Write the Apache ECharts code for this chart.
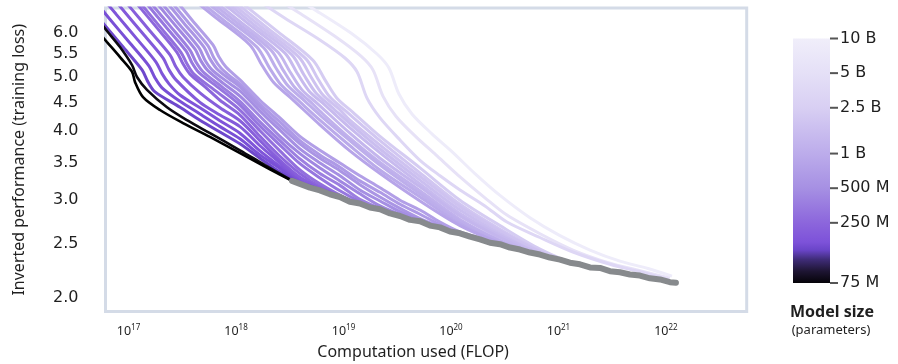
<!DOCTYPE html>
<html><head><meta charset="utf-8">
<script src="https://cdn.jsdelivr.net/npm/echarts@6/dist/echarts.min.js"></script>
<style>html,body{margin:0;padding:0;background:#fff}#c{width:898px;height:364px}</style>
</head><body><div id="c"></div>
<script>
// Tick values
const yTicks = [2.0, 2.5, 3.0, 3.5, 4.0, 4.5, 5.0, 5.5, 6.0];
const xTicks = [1e17, 1e18, 1e19, 1e20, 1e21, 1e22];
const sizeTicks = [75e6, 250e6, 500e6, 1e9, 2.5e9, 5e9, 1e10];

// Training curves: [log10(FLOP), training loss]
const blackA = [[16.735,5.98],[16.800,5.78],[16.921,5.43],[17.033,5.11],[17.060,4.90],[17.135,4.60],[17.293,4.36],[17.507,4.13],[17.758,3.90],[18.102,3.59],[18.316,3.41],[18.521,3.25]];
const blackB = [[16.735,6.28],[16.800,6.05],[16.921,5.66],[17.033,5.25],[17.079,5.00],[17.172,4.74],[17.358,4.41],[17.544,4.18],[17.758,3.96],[18.037,3.69],[18.270,3.47],[18.502,3.27]];
const V1 = [[16.754,6.28],[16.940,5.69],[17.126,5.15],[17.181,4.90],[17.247,4.70],[17.479,4.41],[17.665,4.18],[17.851,3.98],[18.037,3.79],[18.223,3.57],[18.409,3.37],[18.614,3.21],[18.735,3.16]];
const V2 = [[16.688,6.85],[16.819,6.38],[17.005,5.78],[17.191,5.23],[17.247,4.98],[17.312,4.78],[17.479,4.52],[17.665,4.29],[17.851,4.07],[18.037,3.87],[18.223,3.62],[18.409,3.42],[18.595,3.22],[18.679,3.19],[18.800,3.12]];
const V3 = [[16.735,7.02],[16.884,6.49],[17.070,5.88],[17.256,5.32],[17.312,5.07],[17.377,4.86],[17.479,4.64],[17.665,4.40],[17.851,4.17],[18.037,3.96],[18.223,3.68],[18.409,3.45],[18.595,3.24],[18.744,3.15],[18.874,3.10]];
const V4 = [[16.763,7.29],[16.949,6.60],[17.135,5.98],[17.321,5.41],[17.377,5.15],[17.442,4.94],[17.665,4.50],[17.851,4.27],[18.037,4.07],[18.223,3.76],[18.409,3.50],[18.595,3.26],[18.809,3.12],[18.949,3.06]];
const V5 = [[16.828,7.38],[17.014,6.68],[17.200,6.05],[17.386,5.48],[17.442,5.21],[17.507,5.00],[17.665,4.68],[17.851,4.40],[18.037,4.17],[18.223,3.84],[18.409,3.54],[18.595,3.30],[18.781,3.15],[18.874,3.10],[19.014,3.01]];
const V6 = [[16.893,7.47],[17.079,6.77],[17.265,6.13],[17.451,5.54],[17.507,5.28],[17.572,5.06],[17.712,4.80],[17.851,4.54],[18.037,4.27],[18.223,3.91],[18.409,3.60],[18.595,3.35],[18.781,3.17],[18.939,3.07],[19.079,2.99]];
const M0 = [[16.930,7.47],[17.116,6.77],[17.302,6.13],[17.488,5.54],[17.544,5.28],[17.609,5.06],[17.823,4.70],[18.037,4.36],[18.223,4.00],[18.409,3.68],[18.595,3.40],[18.781,3.21],[19.060,3.00],[19.191,2.95]];
const M1 = [[16.977,7.51],[17.163,6.80],[17.349,6.15],[17.535,5.57],[17.591,5.30],[17.656,5.09],[17.851,4.76],[18.037,4.45],[18.223,4.08],[18.409,3.77],[18.595,3.49],[18.781,3.29],[18.967,3.12],[19.228,2.93],[19.358,2.88]];
const M2 = [[17.014,7.54],[17.200,6.82],[17.386,6.18],[17.572,5.59],[17.628,5.32],[17.693,5.11],[17.870,4.80],[18.037,4.52],[18.223,4.15],[18.409,3.84],[18.595,3.56],[18.781,3.35],[18.967,3.19],[19.153,3.01],[19.395,2.87],[19.526,2.82]];
const M3 = [[17.060,7.57],[17.247,6.85],[17.433,6.20],[17.619,5.61],[17.675,5.34],[17.740,5.13],[17.888,4.86],[18.037,4.62],[18.223,4.25],[18.409,3.91],[18.595,3.64],[18.781,3.43],[18.967,3.25],[19.153,3.08],[19.340,2.93],[19.563,2.81],[19.693,2.76]];
const M4 = [[17.098,7.60],[17.284,6.88],[17.470,6.23],[17.656,5.64],[17.712,5.36],[17.777,5.15],[17.907,4.92],[18.037,4.72],[18.223,4.34],[18.409,4.01],[18.595,3.71],[18.781,3.50],[18.967,3.32],[19.153,3.13],[19.340,2.99],[19.526,2.86],[19.730,2.75],[19.860,2.70]];
const M5 = [[17.144,7.63],[17.330,6.91],[17.516,6.25],[17.702,5.66],[17.758,5.39],[17.823,5.17],[17.926,4.98],[18.037,4.80],[18.223,4.41],[18.409,4.08],[18.595,3.79],[18.781,3.57],[18.967,3.39],[19.153,3.20],[19.340,3.04],[19.526,2.90],[19.712,2.78],[19.898,2.69],[20.037,2.63]];
const M6 = [[17.181,7.66],[17.367,6.94],[17.553,6.28],[17.740,5.69],[17.795,5.41],[17.860,5.19],[17.944,5.02],[18.037,4.86],[18.223,4.47],[18.409,4.15],[18.595,3.84],[18.781,3.62],[18.967,3.44],[19.153,3.25],[19.340,3.10],[19.526,2.95],[19.712,2.83],[19.898,2.71],[20.065,2.62],[20.195,2.58]];
const M7 = [[17.228,7.69],[17.414,6.97],[17.600,6.30],[17.786,5.71],[17.842,5.43],[17.907,5.21],[18.037,4.94],[18.223,4.54],[18.409,4.22],[18.595,3.91],[18.781,3.69],[18.967,3.50],[19.153,3.32],[19.340,3.16],[19.526,3.00],[19.712,2.88],[19.898,2.74],[20.084,2.63],[20.233,2.58],[20.363,2.53]];
const L0 = [[17.479,7.20],[17.805,6.41],[18.130,5.71],[18.242,5.25],[18.353,4.88],[18.502,4.60],[18.781,4.10],[19.060,3.68],[19.340,3.35],[19.712,2.99],[20.084,2.70],[20.502,2.49],[20.642,2.45]];
const L1 = [[17.544,7.14],[17.870,6.36],[18.195,5.66],[18.307,5.21],[18.419,4.84],[18.567,4.56],[18.781,4.18],[19.060,3.76],[19.340,3.40],[19.712,3.04],[20.084,2.72],[20.456,2.51],[20.577,2.47],[20.735,2.42]];
const L2 = [[17.609,7.11],[17.935,6.33],[18.260,5.64],[18.372,5.19],[18.484,4.82],[18.633,4.54],[18.781,4.27],[19.060,3.84],[19.340,3.47],[19.712,3.08],[20.084,2.75],[20.456,2.53],[20.651,2.44],[20.828,2.40]];
const L3 = [[17.674,7.05],[18.000,6.28],[18.326,5.59],[18.437,5.15],[18.549,4.78],[18.698,4.50],[18.781,4.34],[19.060,3.88],[19.340,3.51],[19.712,3.12],[20.084,2.77],[20.456,2.54],[20.726,2.42],[20.874,2.38]];
const L4 = [[17.740,6.99],[18.065,6.23],[18.391,5.54],[18.502,5.11],[18.614,4.74],[18.763,4.47],[19.060,3.96],[19.340,3.57],[19.712,3.17],[20.084,2.81],[20.456,2.57],[20.800,2.40],[20.967,2.36]];
const L5 = [[17.805,6.97],[18.130,6.20],[18.456,5.52],[18.567,5.09],[18.679,4.72],[18.828,4.45],[19.060,4.05],[19.340,3.65],[19.712,3.21],[20.084,2.84],[20.456,2.59],[20.874,2.38],[21.060,2.33]];
const L6 = [[17.870,6.91],[18.195,6.15],[18.521,5.48],[18.633,5.04],[18.744,4.68],[18.893,4.41],[19.060,4.12],[19.340,3.71],[19.712,3.26],[20.084,2.88],[20.456,2.61],[20.828,2.40],[20.949,2.36],[21.153,2.31]];
const L7 = [[17.935,6.85],[18.260,6.10],[18.586,5.43],[18.698,5.00],[18.809,4.64],[18.958,4.38],[19.060,4.18],[19.340,3.77],[19.712,3.31],[20.084,2.92],[20.456,2.64],[20.828,2.42],[21.023,2.34],[21.247,2.28]];
const L8 = [[17.814,7.26],[18.000,6.80],[18.326,6.05],[18.651,5.39],[18.763,4.96],[18.874,4.60],[19.023,4.34],[19.181,4.08],[19.340,3.84],[19.712,3.36],[20.084,2.95],[20.456,2.66],[20.828,2.43],[21.098,2.32],[21.340,2.27]];
const L9 = [[17.879,7.23],[18.065,6.77],[18.391,6.03],[18.716,5.36],[18.828,4.94],[18.939,4.58],[19.088,4.32],[19.340,3.91],[19.712,3.43],[20.084,3.00],[20.456,2.70],[20.828,2.45],[21.172,2.30],[21.433,2.26]];
const XL0 = [[18.130,7.02],[18.456,6.38],[18.781,5.83],[19.014,5.41],[19.126,5.11],[19.219,4.58],[19.340,4.22],[19.526,3.85],[19.712,3.54],[19.898,3.32],[20.084,3.13],[20.316,2.93],[20.521,2.74],[20.828,2.57],[21.135,2.42],[21.479,2.30],[21.758,2.23],[22.019,2.16]];
const XL1 = [[18.279,7.11],[18.605,6.49],[18.930,5.90],[19.163,5.45],[19.274,5.15],[19.367,4.62],[19.488,4.25],[19.675,3.90],[19.860,3.62],[20.065,3.33],[20.316,3.03],[20.521,2.82],[20.828,2.61],[21.135,2.44],[21.479,2.31],[21.758,2.24],[22.037,2.17]];
const XL2 = [[18.428,7.17],[18.753,6.57],[19.079,5.98],[19.312,5.50],[19.423,5.19],[19.516,4.66],[19.637,4.29],[19.823,3.95],[20.009,3.67],[20.223,3.35],[20.456,3.06],[20.735,2.79],[21.014,2.59],[21.293,2.44],[21.572,2.33],[21.833,2.26],[22.056,2.19]];

// Compute-optimal envelope (gray)
const frontierLogC = [18.521,18.595,18.688,18.781,18.874,18.967,19.060,19.153,19.247,19.340,19.433,19.526,19.619,19.712,19.805,19.898,19.991,20.084,20.177,20.270,20.363,20.456,20.549,20.642,20.735,20.828,20.921,21.014,21.107,21.200,21.293,21.386,21.479,21.572,21.665,21.758,21.851,21.944,22.037,22.093];
const frontierLoss = [3.25,3.21,3.16,3.125,3.075,3.04,2.98,2.96,2.91,2.89,2.84,2.81,2.765,2.75,2.70,2.68,2.635,2.615,2.58,2.55,2.515,2.50,2.465,2.445,2.415,2.395,2.365,2.345,2.315,2.30,2.27,2.265,2.235,2.225,2.205,2.195,2.17,2.16,2.135,2.13];

// Model sizes (parameters) per curve, in drawing order
const curveNames = ['XL2','XL1','XL0','L9','L8','L7','L6','L5','L4','L3','L2','L1','L0','M7','M6','M5','M4','M3','M2','M1','M0','V6','V5','V4','V3','V2','V1'];
const curveSizes = [9.0e9,5.5e9,3.5e9,2.3e9,2.0e9,1.8e9,1.6e9,1.45e9,1.3e9,1.15e9,1.05e9,0.95e9,0.85e9,730e6,640e6,560e6,490e6,430e6,380e6,330e6,290e6,250e6,220e6,200e6,180e6,165e6,150e6];
const curveData = [XL2,XL1,XL0,L9,L8,L7,L6,L5,L4,L3,L2,L1,L0,M7,M6,M5,M4,M3,M2,M1,M0,V6,V5,V4,V3,V2,V1];

// Colour scale (model size -> colour)
const scaleSizes = [75e6,95e6,120e6,145e6,170e6,250e6,500e6,1e9,2.5e9,5e9,1e10];
const scaleColors = ['#050308','#1e1533','#3f2c78','#6a45c8','#7d52d9','#8c66dc','#a690e3','#bcaceb','#d8cff3','#e5e0f7','#f0eefa'];

function hexRgb(h){return [parseInt(h.slice(1,3),16),parseInt(h.slice(3,5),16),parseInt(h.slice(5,7),16)];}
function colorFor(s){
  const l = Math.log(s);
  for (let i = 0; i < scaleSizes.length - 1; i++) {
    if (s <= scaleSizes[i+1]) {
      const a = Math.log(scaleSizes[i]), b = Math.log(scaleSizes[i+1]);
      const t = Math.max(0, Math.min(1, (l - a) / (b - a)));
      const c0 = hexRgb(scaleColors[i]), c1 = hexRgb(scaleColors[i+1]);
      return 'rgb(' + c0.map((v,k)=>Math.round(v + (c1[k]-v)*t)).join(',') + ')';
    }
  }
  return scaleColors[scaleColors.length-1];
}
const lnSpan = Math.log(1e10/75e6);
const barStops = scaleSizes.map((s,i)=>({offset: 1 - Math.log(s/75e6)/lnSpan, color: scaleColors[i]})).reverse();

const toPts = arr => arr.map(p => [Math.pow(10, p[0]), p[1]]);

const series = [];
curveData.forEach((d, i) => {
  series.push({type:'line', name: curveNames[i], data: toPts(d), symbol:'none', smooth:0.3, silent:true,
    xAxisIndex:0, yAxisIndex:0, lineStyle:{width:3, color: colorFor(curveSizes[i])}, z:2});
});
[blackB, blackA].forEach((d,i) => {
  series.push({type:'line', data: toPts(d), symbol:'none', smooth:0.3, silent:true,
    xAxisIndex:0, yAxisIndex:0, lineStyle:{width:2.6, color: i ? '#000000' : '#0d0a12'}, z:3});
});
series.push({type:'line', data: frontierLogC.map((c,i)=>[Math.pow(10,c), frontierLoss[i]]), symbol:'none', silent:true,
  xAxisIndex:0, yAxisIndex:0, lineStyle:{width:6, color:'#878a8d', cap:'round', join:'round'}, z:4});
series.push({type:'custom', xAxisIndex:1, yAxisIndex:1, silent:true, data:[[0, sizeTicks[0]]],
  renderItem: (params, api) => {
    const p1 = api.coord([0, sizeTicks[sizeTicks.length-1]]);
    const p2 = api.coord([1, sizeTicks[0]]);
    const children = [{type:'rect', shape:{x:p1[0], y:p1[1], width:p2[0]-p1[0], height:p2[1]-p1[1]},
      style:{fill: new echarts.graphic.LinearGradient(0,0,0,1, barStops)}}];
    sizeTicks.forEach(s => {
      const p = api.coord([1, s]);
      children.push({type:'line', shape:{x1:p[0], y1:p[1], x2:p[0]+8, y2:p[1]}, style:{stroke:'#555', lineWidth:2}});
    });
    return {type:'group', children};
  }});

const chart = echarts.init(document.getElementById('c'));
chart.setOption({
  animation:false,
  textStyle:{fontFamily:'Noto Sans', color:'#1f1f1f'},
  grid:[
    {left:105.5, top:8, right:151.3, bottom:52.5, show:true, borderColor:'#d4dbe7', borderWidth:3, backgroundColor:'transparent', outerBoundsMode:'none'},
    {left:793, top:38.5, width:37, height:244.5, outerBoundsMode:'none'}
  ],
  xAxis:[
    {type:'log', gridIndex:0, min:6.11e16, max:5.64e22,
     axisLine:{show:false}, axisTick:{show:false}, splitLine:{show:false},
     axisLabel:{customValues:xTicks, margin:12,
       formatter: v => '{b|10}{s|' + Math.round(Math.log10(v)) + '}',
       rich:{b:{fontSize:12.5, color:'#1f1f1f', fontFamily:'Noto Sans', lineHeight:15},
             s:{fontSize:8, color:'#1f1f1f', fontFamily:'Noto Sans', verticalAlign:'top', lineHeight:9}}},
     name:'Computation used (FLOP)', nameLocation:'middle', nameGap:33,
     nameTextStyle:{fontSize:16, color:'#1f1f1f', padding:[0,26,0,0]}},
    {type:'value', gridIndex:1, min:0, max:1, show:false}
  ],
  yAxis:[
    {type:'log', gridIndex:0, min:1.891, max:6.656,
     axisLine:{show:false}, axisTick:{show:false}, splitLine:{show:false},
     axisLabel:{customValues:yTicks, formatter: v => v.toFixed(1), fontSize:16, fontFamily:'DejaVu Sans', color:'#1f1f1f', margin:27},
     name:'Inverted performance (training loss)', nameLocation:'middle', nameRotate:90, nameGap:78,
     nameTextStyle:{fontSize:16, color:'#1f1f1f'}},
    {type:'log', gridIndex:1, min:75e6, max:1e10, position:'right',
     axisLine:{show:false}, splitLine:{show:false}, axisTick:{show:false},
     axisLabel:{customValues:sizeTicks, margin:10, fontSize:16, fontFamily:'DejaVu Sans', color:'#1f1f1f',
       formatter: v => v >= 1e9 ? (Math.round(v/1e8)/10) + ' B' : Math.round(v/1e6) + ' M'}}
  ],
  graphic:[
    {type:'text', silent:true, style:{text:'Model size', x:832, y:312, textAlign:'center', textVerticalAlign:'middle', font:'bold 16px "Noto Sans"', fill:'#1f1f1f'}},
    {type:'text', silent:true, style:{text:'(parameters)', x:831, y:330, textAlign:'center', textVerticalAlign:'middle', font:'13px "Noto Sans"', fill:'#1f1f1f'}}
  ],
  series: series
});
</script></body></html>
